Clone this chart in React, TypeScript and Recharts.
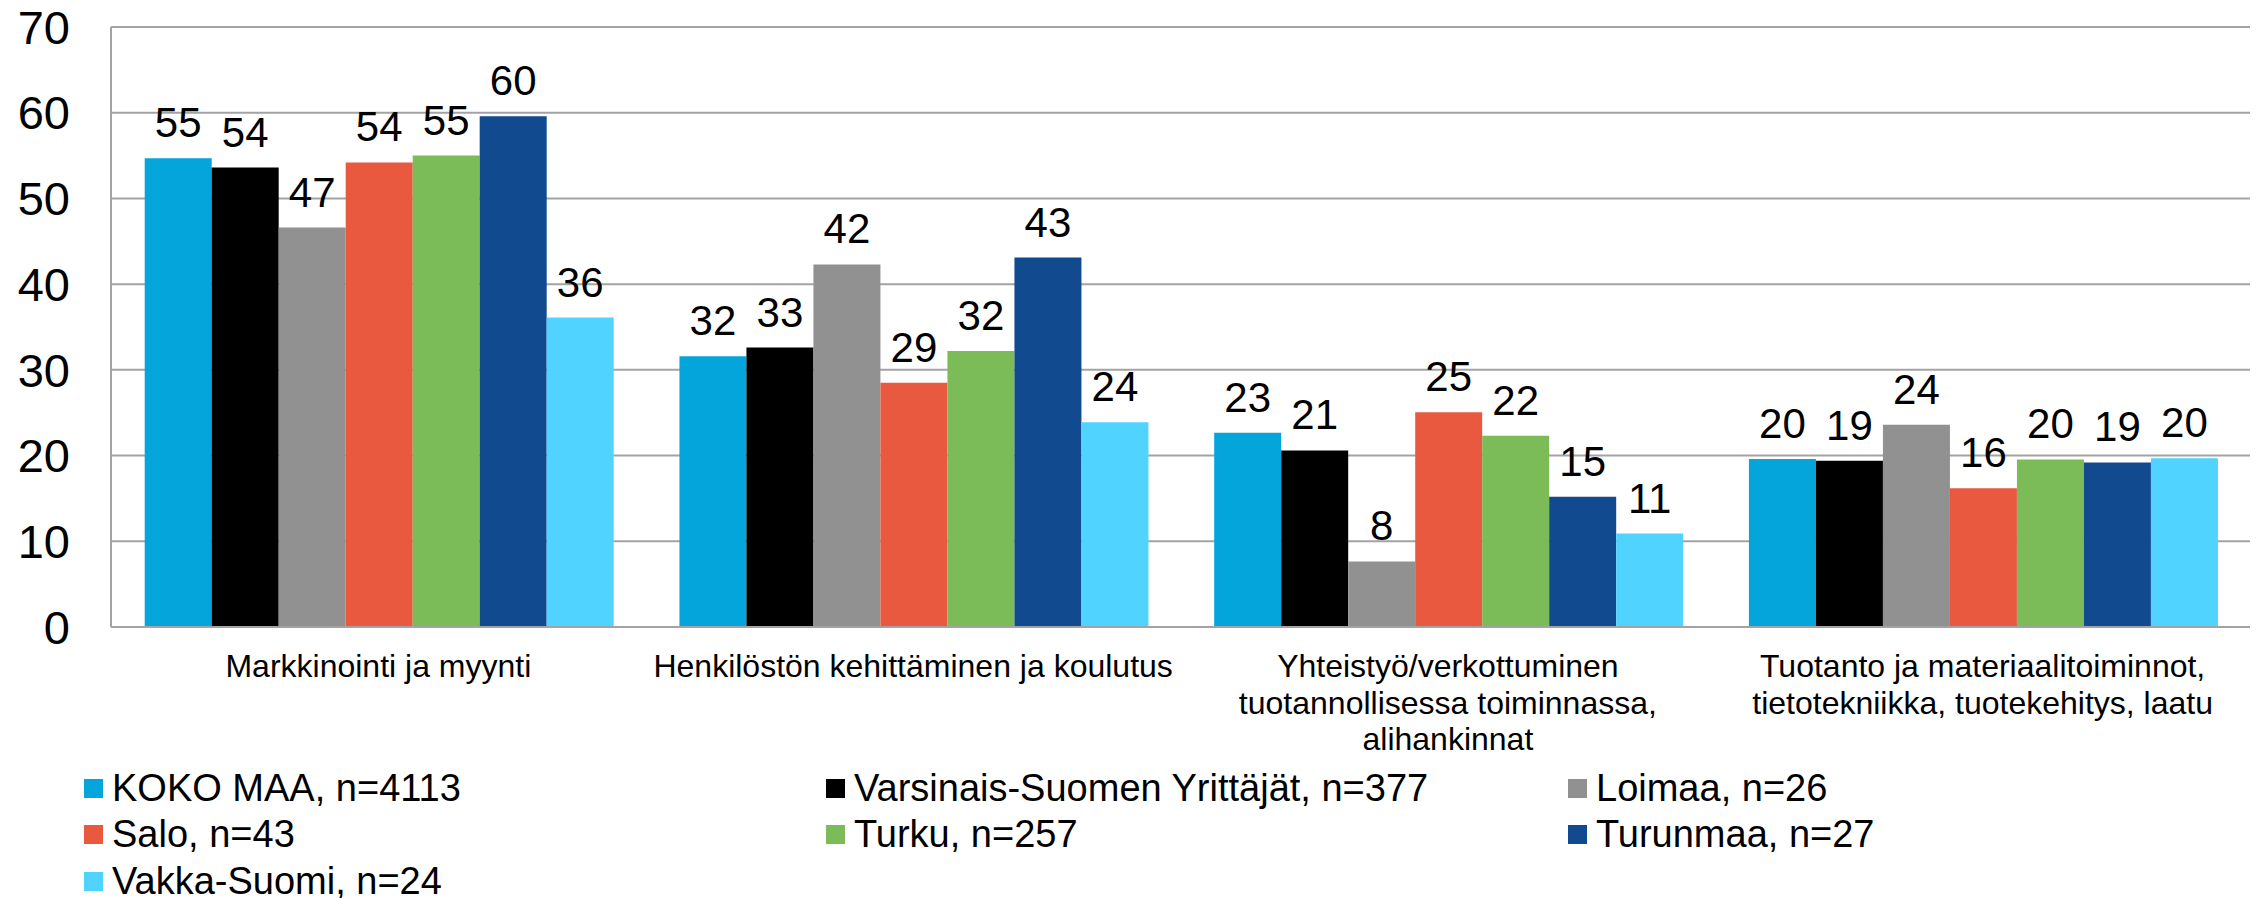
import React from "react";
import {
  BarChart,
  Bar,
  XAxis,
  YAxis,
  CartesianGrid,
  Legend,
  LabelList,
} from "recharts";

const FONT = '"Liberation Sans", Arial, sans-serif';

const categories = [
  "Markkinointi ja myynti",
  "Henkilöstön kehittäminen ja koulutus",
  "Yhteistyö/verkottuminen\ntuotannollisessa toiminnassa,\nalihankinnat",
  "Tuotanto ja materiaalitoiminnot,\ntietotekniikka, tuotekehitys, laatu",
];

const kokoMaa = [54.7, 31.6, 22.65, 19.6];
const varsinaisSuomi = [53.6, 32.6, 20.6, 19.4];
const loimaa = [46.6, 42.3, 7.65, 23.6];
const salo = [54.2, 28.5, 25.06, 16.2];
const turku = [55.0, 32.2, 22.3, 19.55];
const turunmaa = [59.6, 43.1, 15.2, 19.2];
const vakkaSuomi = [36.1, 23.9, 10.9, 19.7];

const yTicks = [0, 10, 20, 30, 40, 50, 60, 70];

const series = [
  { key: "koko", name: "KOKO MAA, n=4113", color: "#04A5DA", values: kokoMaa },
  { key: "vars", name: "Varsinais-Suomen Yrittäjät, n=377", color: "#000000", values: varsinaisSuomi },
  { key: "loimaa", name: "Loimaa, n=26", color: "#919191", values: loimaa },
  { key: "salo", name: "Salo, n=43", color: "#E95940", values: salo },
  { key: "turku", name: "Turku, n=257", color: "#7BBC58", values: turku },
  { key: "turunmaa", name: "Turunmaa, n=27", color: "#114A8F", values: turunmaa },
  { key: "vakka", name: "Vakka-Suomi, n=24", color: "#50D4FF", values: vakkaSuomi },
];

const data = categories.map((category, i) => {
  const row: Record<string, string | number> = { category };
  series.forEach((s) => {
    row[s.key] = s.values[i];
  });
  return row;
});

const GRID = "#A3A3A3";

function CategoryTick({ x, y, payload }: any) {
  const lines = String(payload.value).split("\n");
  return (
    <text x={x} y={y} textAnchor="middle" fontSize={32} fill="#000" fontFamily={FONT}>
      {lines.map((line, i) => (
        <tspan key={i} x={x} dy={i === 0 ? 50 : 36.5}>
          {line}
        </tspan>
      ))}
    </text>
  );
}

function LegendBox() {
  return (
    <div
      style={{
        display: "grid",
        gridTemplateColumns: "742px 742px 742px",
        gridAutoRows: "46.5px",
        paddingLeft: 84,
        fontFamily: FONT,
        fontSize: 38,
        color: "#000",
      }}
    >
      {series.map((s) => (
        <div key={s.key} style={{ display: "flex", alignItems: "center", whiteSpace: "nowrap" }}>
          <span
            style={{
              display: "inline-block",
              width: 19,
              height: 19,
              background: s.color,
              marginRight: 9,
            }}
          />
          <span>{s.name}</span>
        </div>
      ))}
    </div>
  );
}

export default function App() {
  return (
    <div style={{ position: "absolute", left: 0, top: 0, background: "#fff" }}>
      <BarChart
        width={2260}
        height={898}
        data={data}
        margin={{ top: 27, right: 10, bottom: 131, left: 0 }}
        barCategoryGap="6.3%"
        barGap={0}
      >
        <CartesianGrid horizontal vertical={false} stroke={GRID} strokeWidth={2} />
        <XAxis
          dataKey="category"
          interval={0}
          tick={<CategoryTick />}
          tickLine={false}
          tickSize={0}
          tickMargin={0}
          height={140}
          axisLine={{ stroke: GRID, strokeWidth: 2 }}
        />
        <YAxis
          domain={[0, 70]}
          ticks={yTicks}
          width={111}
          tickLine={false}
          tickSize={0}
          tickMargin={41}
          axisLine={{ stroke: GRID, strokeWidth: 2 }}
          tick={{ fontSize: 47, fill: "#000", fontFamily: FONT }}
        />
        <YAxis
          yAxisId="right"
          orientation="right"
          domain={[0, 70]}
          width={0}
          tick={false}
          tickLine={false}
          axisLine={{ stroke: GRID, strokeWidth: 2 }}
        />
        <Legend
          layout="horizontal"
          verticalAlign="middle"
          align="center"
          wrapperStyle={{ top: 765, left: 0, width: 2260 }}
          content={() => <LegendBox />}
        />
        {series.map((s) => (
          <Bar key={s.key} dataKey={s.key} name={s.name} fill={s.color} isAnimationActive={false}>
            <LabelList
              dataKey={s.key}
              position="top"
              offset={21}
              formatter={(v: any) => Math.round(Number(v))}
              style={{ fontSize: 42, fill: "#000", fontFamily: FONT }}
            />
          </Bar>
        ))}
      </BarChart>
    </div>
  );
}
